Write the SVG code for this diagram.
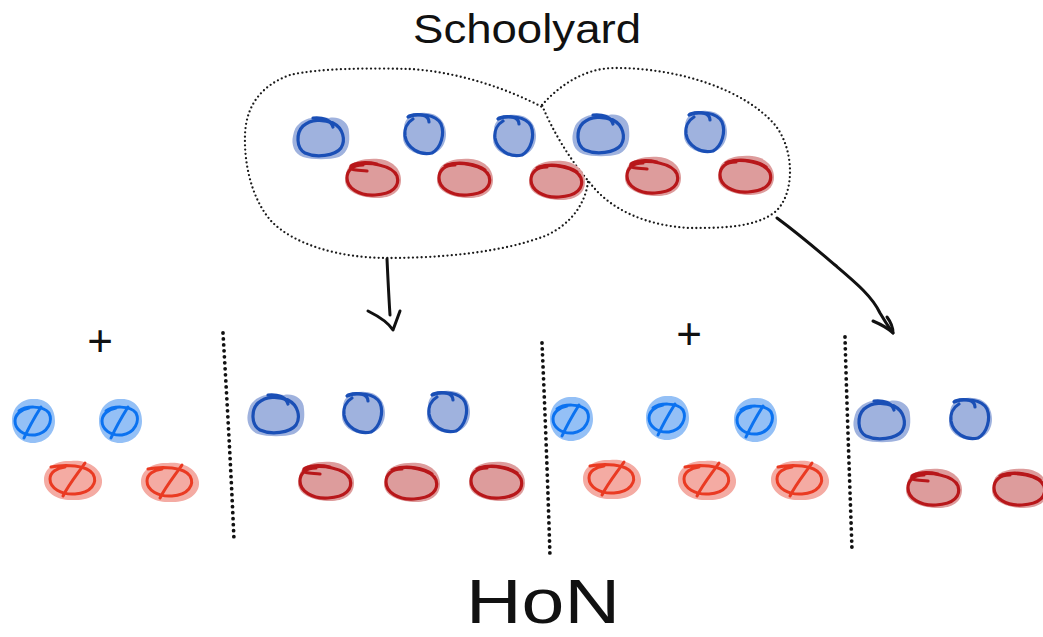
<svg xmlns="http://www.w3.org/2000/svg" width="1043" height="637" viewBox="0 0 1043 637">
  <style>
    .bh { fill: #9fb2de; }
    .bs { fill: none; stroke: #1a4fb6; stroke-width: 3.2; stroke-linecap: round; stroke-linejoin: round; }
    .rh { fill: #dd9c9c; }
    .rs { fill: none; stroke: #b8171a; stroke-width: 3.2; stroke-linecap: round; stroke-linejoin: round; }
    .lbh { fill: #94c0f6; }
    .lbs { fill: none; stroke: #0b72f0; stroke-width: 3; stroke-linecap: round; stroke-linejoin: round; }
    .lrh { fill: #f4aba3; }
    .lrs { fill: none; stroke: #ea3a22; stroke-width: 3; stroke-linecap: round; stroke-linejoin: round; }
    .blob { fill: none; stroke: #1a1a1a; stroke-width: 2.3; stroke-linecap: round; stroke-dasharray: 0 4.3; }
    .divider { fill: none; stroke: #111; stroke-width: 3.8; stroke-linecap: round; stroke-dasharray: 0 6; }
    .arrow { fill: none; stroke: #111; stroke-width: 3; stroke-linecap: round; stroke-linejoin: round; }
    .hand { font-family: "Liberation Sans", Arial, sans-serif; fill: #111; }
  </style>
  <defs>
    <!-- wide dark-blue token -->
    <g id="blueWide">
      <path class="bh" d="M-22,-14 C-14,-22 0,-21 8,-20 C18,-22 28,-16 28,-6 C29,4 28,14 18,19 C8,22 -8,22 -18,19 C-27,16 -30,6 -28,-2 C-27,-8 -25,-12 -22,-14Z"/>
      <path class="bs" d="M12,-15 C22,-10 25,2 20,10 C14,18 -5,20 -16,15 C-25,10 -25,-5 -18,-12 C-10,-19 2,-19 12,-15"/>
      <path class="bs" d="M-8,-20 C2,-21 10,-18 12,-11"/>
    </g>
    <!-- round dark-blue token -->
    <g id="blueRound">
      <path class="bh" d="M-20,-6 C-20,-18 -8,-22 2,-21 C14,-21 22,-12 22,0 C22,12 14,21 2,21 C-10,21 -22,13 -21,2 Z"/>
      <path class="bs" d="M-16,-17 C-6,-21 12,-20 17,-10 C21,0 17,14 8,19 C-4,22 -17,14 -19,2 C-20,-6 -16,-12 -11,-15"/>
      <path class="bs" d="M-15,-18 C-5,-21 5,-19 5,-12"/>
    </g>
    <!-- dark-red token with inner loop -->
    <g id="redCurl">
      <path class="rh" d="M-26,-8 C-22,-18 -6,-20 6,-19 C18,-18 28,-10 28,2 C28,14 18,20 4,20 C-12,20 -28,14 -28,2 Z"/>
      <path class="rs" d="M-20,-12 C-5,-18 20,-12 24,-2 C27,8 20,16 2,17 C-14,18 -26,10 -26,0 C-26,-8 -20,-13 -10,-13"/>
      <path class="rs" d="M-6,-7 C-14,-8 -24,-7 -22,-12 C-18,-16 -5,-16 4,-14"/>
    </g>
    <!-- dark-red token -->
    <g id="redPlain">
      <path class="rh" d="M-26,-8 C-22,-18 -6,-20 6,-19 C18,-18 28,-10 28,2 C28,14 18,20 4,20 C-12,20 -28,14 -28,2 Z"/>
      <path class="rs" d="M-20,-12 C-5,-18 20,-12 24,-2 C27,8 20,16 2,17 C-14,18 -26,10 -26,0 C-26,-8 -20,-13 -10,-13"/>
      <path class="rs" d="M-18,-13 C-5,-17 12,-14 20,-8"/>
    </g>
    <!-- crossed-out light-blue token -->
    <g id="blueCrossed">
      <path class="lbh" d="M-21,0 C-21,-15 -10,-23 2,-22 C15,-22 22,-12 22,0 C22,13 12,22 0,22 C-12,22 -21,13 -21,0Z"/>
      <path class="lbs" d="M-14,-10 C-8,-15 10,-16 16,-8 C20,0 15,12 2,14 C-10,15 -18,8 -18,0 C-18,-6 -12,-12 -4,-13"/>
      <path class="lbs" d="M-9,17 C-4,6 3,-6 8,-14"/>
    </g>
    <!-- crossed-out light-red token -->
    <g id="redCrossed">
      <path class="lrh" d="M-29,0 C-29,-13 -16,-20 -2,-19 C12,-21 28,-13 29,0 C30,13 16,21 0,20 C-14,21 -29,13 -29,0Z"/>
      <path class="lrs" d="M-22,-13 C-8,-16 14,-15 20,-6 C25,3 18,13 2,14 C-12,15 -23,8 -23,-1 C-23,-8 -16,-12 -8,-13"/>
      <path class="lrs" d="M-10,16 C-4,4 6,-8 12,-17"/>
    </g>
  </defs>

  <rect width="1043" height="637" fill="#ffffff"/>

  <!-- title -->
  <g id="title">
    <text class="hand" x="413" y="43" font-size="40" textLength="228" lengthAdjust="spacingAndGlyphs">Schoolyard</text>
  </g>

  <!-- dotted groupings in the schoolyard -->
  <g id="group-left">
    <path class="blob" d="M588,182 C585,205 570,225 545,236 C500,253 440,258 387,258 C340,258 295,245 272,222 C252,200 244,165 245,135 C246,105 262,85 290,75 C320,68 370,68 410,69 C460,72 510,90 542,107"/>
  </g>
  <g id="group-right">
    <path class="blob" d="M542,105 C560,85 585,68 615,68 C680,68 745,90 775,125 C795,150 795,195 775,212 C755,228 720,228 690,228 C650,226 612,212 590,183 C570,160 552,130 542,105 Z"/>
  </g>

  <!-- schoolyard tokens -->
  <g id="schoolyard">
    <use href="#blueWide" x="321" y="138"/>
    <use href="#blueRound" x="424" y="134"/>
    <use href="#blueRound" x="514" y="136"/>
    <use href="#blueWide" x="601" y="135"/>
    <use href="#blueRound" x="705" y="132"/>
    <use href="#redCurl" x="373" y="178"/>
    <use href="#redPlain" x="465" y="178"/>
    <use href="#redPlain" x="557" y="180"/>
    <use href="#redCurl" x="653" y="176"/>
    <use href="#redPlain" x="746" y="175"/>
  </g>

  <!-- connectors -->
  <g id="connectors">
    <path class="arrow" d="M387,259 C388,280 389,300 390,315"/>
    <path class="arrow" d="M368,311 C378,316 388,322 393,330 L400,311"/>
    <path class="arrow" d="M777,218 C800,235 815,248 835,265 C855,282 872,296 880,313 C884,320 888,326 893,333"/>
    <path class="arrow" d="M873,321 C880,324 888,328 893,333 C893,327 890,321 887,317"/>
  </g>

  <!-- panel separators -->
  <g id="dividers">
    <path class="divider" d="M223,333 C227,400 231,470 234,540"/>
    <path class="divider" d="M542,343 C545,410 548,490 550,557"/>
    <path class="divider" d="M845,337 C847,410 850,490 852,550"/>
  </g>

  <!-- panel A: removed tokens -->
  <g id="panel-a">
    <text class="hand" x="100" y="356" font-size="44" text-anchor="middle">+</text>
    <use href="#blueCrossed" x="33" y="421"/>
    <use href="#blueCrossed" x="120" y="421"/>
    <use href="#redCrossed" x="73" y="480"/>
    <use href="#redCrossed" x="170" y="482"/>
  </g>

  <!-- panel B -->
  <g id="panel-b">
    <use href="#blueWide" x="276" y="415"/>
    <use href="#blueRound" x="363" y="413"/>
    <use href="#blueRound" x="448" y="412"/>
    <use href="#redCurl" x="326" y="481"/>
    <use href="#redPlain" x="412" y="482"/>
    <use href="#redPlain" x="497" y="481"/>
  </g>

  <!-- panel C: removed tokens -->
  <g id="panel-c">
    <text class="hand" x="689" y="349" font-size="44" text-anchor="middle">+</text>
    <use href="#blueCrossed" x="571" y="419"/>
    <use href="#blueCrossed" x="667" y="418"/>
    <use href="#blueCrossed" x="755" y="420"/>
    <use href="#redCrossed" x="612" y="479"/>
    <use href="#redCrossed" x="707" y="480"/>
    <use href="#redCrossed" x="800" y="480"/>
  </g>

  <!-- panel D -->
  <g id="panel-d">
    <use href="#blueWide" x="882" y="421"/>
    <use href="#blueRound" x="970" y="419"/>
    <use href="#redCurl" x="934" y="488"/>
    <use href="#redPlain" x="1020" y="488"/>
  </g>

  <!-- bottom label -->
  <g id="label-hon">
    <text class="hand" x="466" y="623" font-size="63" textLength="154" lengthAdjust="spacingAndGlyphs">HoN</text>
  </g>
</svg>
